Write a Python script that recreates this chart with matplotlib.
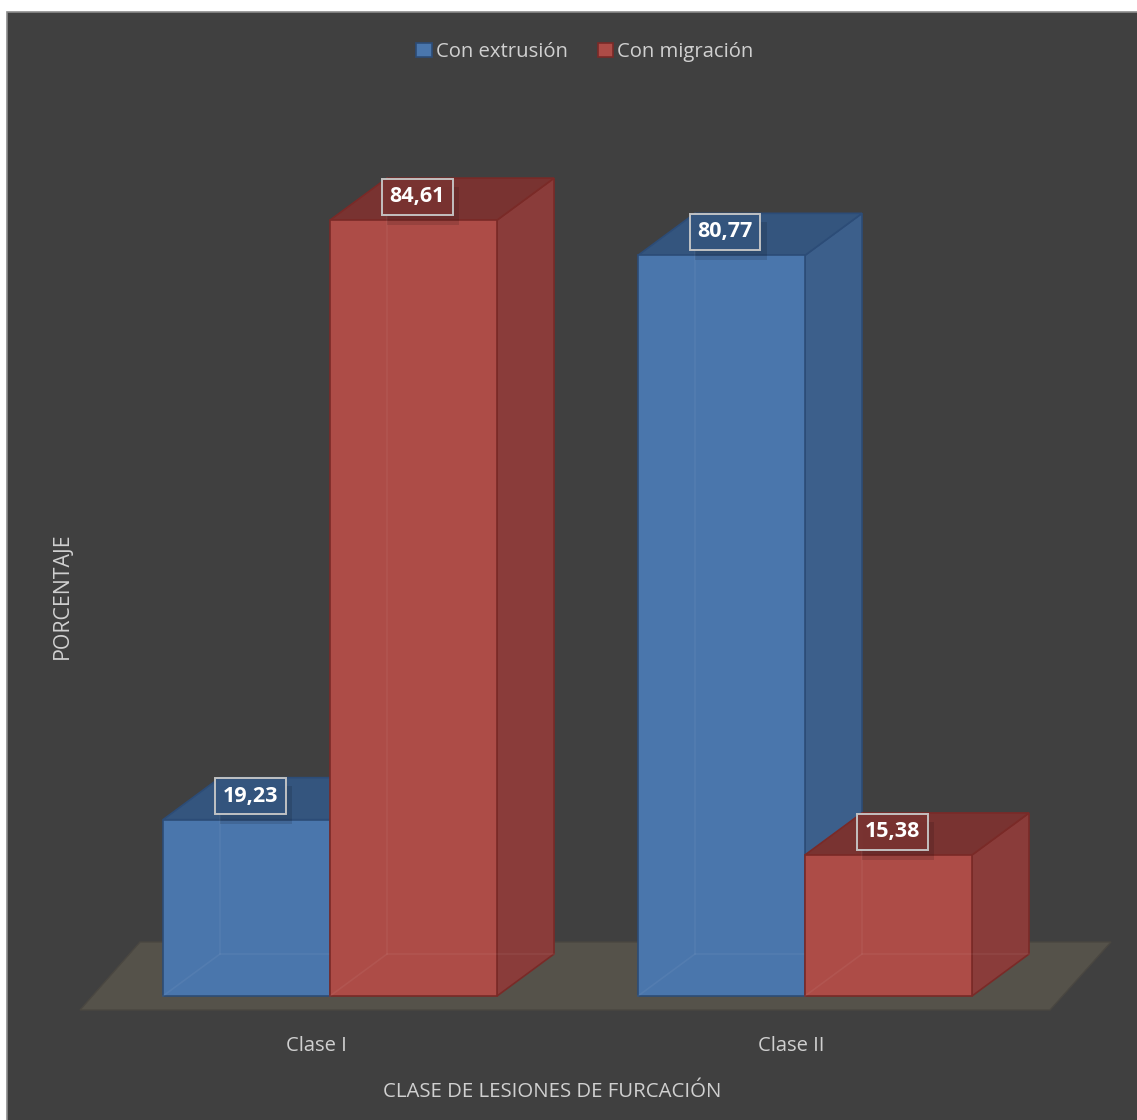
import matplotlib
matplotlib.use("Agg")
import matplotlib.pyplot as plt
from matplotlib.patches import Polygon, Rectangle
import numpy as np

# ---- data ----
categories = ["Clase I", "Clase II"]
series_names = ["Con extrusión", "Con migración"]
extrusion = [19.23, 80.77]
migracion = [84.61, 15.38]
labels_ext = ["19,23", "80,77"]
labels_mig = ["84,61", "15,38"]

# ---- style ----
W, H = 1137, 1120
FONT = ["Open Sans", "DejaVu Sans"]
plt.rcParams["font.family"] = FONT
BG = "#404040"
TXT = "#d0d0d0"
blue = dict(front="#4a76ac", top="#34557e", side="#3c5f8b", edge="#2c4c77")
red = dict(front="#ad4c47", top="#793331", side="#8a3c3a", edge="#7a2a27")

# pixel-based layout constants (style)
px_per_unit_y = 9.17
px_per_cat = 475.0
y0_px = 996.0
x0_px = 330.0
bar_w = 167.0 / px_per_cat
dx = 57.0 / px_per_cat
dy = 42.0 / px_per_unit_y

fig = plt.figure(figsize=(W / 100, H / 100), dpi=100)
fig.patch.set_facecolor("white")

ax = fig.add_axes([0, 0, 1, 1])
ax.set_facecolor("none")
ax.set_xlim(-x0_px / px_per_cat, (W - x0_px) / px_per_cat)
ax.set_ylim(-(H - y0_px) / px_per_unit_y, y0_px / px_per_unit_y)
ax.axis("off")

ax.add_patch(Rectangle((7 / W, -0.01), 1 - 7 / W + 0.01, 1 - 12 / H + 0.01,
                       transform=fig.transFigure, facecolor=BG,
                       edgecolor="#8c8c8c", lw=1.2, zorder=0, clip_on=False))

cats = np.arange(len(categories))

# floor
fl_b = -14 / px_per_unit_y
fl_t = 54 / px_per_unit_y
floor = Polygon([(cats[0] - 250 / px_per_cat, fl_b), (cats[-1] + 245 / px_per_cat, fl_b),
                 (cats[-1] + 306 / px_per_cat, fl_t), (cats[0] - 190 / px_per_cat, fl_t)],
                closed=True, facecolor="#55524a", edgecolor="#4a4741", lw=1, zorder=1)
ax.add_patch(floor)


def draw_3d(xs, hs, col, z):
    bars = ax.bar(xs, hs, width=bar_w, align="edge", color=col["front"],
                  edgecolor=col["edge"], linewidth=1.2, zorder=z + 2)
    for x, h in zip(xs, hs):
        side = Polygon([(x + bar_w, 0), (x + bar_w + dx, dy), (x + bar_w + dx, h + dy), (x + bar_w, h)],
                       closed=True, facecolor=col["side"], edgecolor=col["edge"], lw=1.2, zorder=z)
        top = Polygon([(x, h), (x + bar_w, h), (x + bar_w + dx, h + dy), (x + dx, h + dy)],
                      closed=True, facecolor=col["top"], edgecolor=col["edge"], lw=1.2, zorder=z + 1)
        ax.add_patch(side)
        ax.add_patch(top)
        # faint hidden edges seen through the translucent front
        ax.plot([x + dx, x + dx], [dy, h + dy], color="white", alpha=0.05, lw=1.2, zorder=z + 3)
        ax.plot([x, x + dx, x + bar_w + dx], [0, dy, dy], color="white", alpha=0.05, lw=1.2, zorder=z + 3)
    return bars


b_ext = draw_3d(cats - bar_w, extrusion, blue, 2)
b_mig = draw_3d(cats, migracion, red, 10)

# label box shadow size/offset (pixels -> data units)
sh_w, sh_h = 72 / px_per_cat, 38 / px_per_unit_y
sh_dx, sh_dy = 6 / px_per_cat, -9 / px_per_unit_y


def add_labels(xs, hs, labs, col):
    for x, h, s in zip(xs, hs, labs):
        lx, ly = x + bar_w / 2 + 0.008, h + 2.55
        ax.add_patch(Rectangle((lx - sh_w / 2 + sh_dx, ly - sh_h / 2 + sh_dy), sh_w, sh_h,
                               facecolor="black", edgecolor="none", alpha=0.12, zorder=29))
        ax.text(lx, ly, s, ha="center", va="center",
                fontsize=15.5, fontweight="bold", color="white", zorder=30,
                bbox=dict(boxstyle="square,pad=0.35", facecolor=col["top"],
                          edgecolor="#c8c8c8", lw=1.4, alpha=0.95))


add_labels(cats - bar_w, extrusion, labels_ext, blue)
add_labels(cats, migracion, labels_mig, red)

for c, name in zip(cats, categories):
    ax.text(c - 14 / px_per_cat, -(1046 - y0_px) / px_per_unit_y, name, ha="center", va="center",
            fontsize=14.5, color=TXT, zorder=5)

ax.text(552 / W, 1 - 1092 / H, "CLASE DE LESIONES DE FURCACIÓN", ha="center", va="center",
        fontsize=14.7, color=TXT, transform=fig.transFigure, zorder=5)
ax.text(62 / W, 1 - 596 / H, "PORCENTAJE", ha="center", va="center", rotation=90,
        fontsize=15.3, color=TXT, transform=fig.transFigure, zorder=5)

leg = ax.legend([b_ext, b_mig], series_names, loc="center",
                bbox_to_anchor=(585 / W, 1 - 52 / H), bbox_transform=fig.transFigure,
                ncol=2, frameon=False, fontsize=14.6, handlelength=0.75, handleheight=0.75,
                handletextpad=0.2, columnspacing=1.5, labelcolor=TXT)
leg.set_zorder(40)

fig.savefig("out.png", dpi=100, facecolor=fig.get_facecolor())
